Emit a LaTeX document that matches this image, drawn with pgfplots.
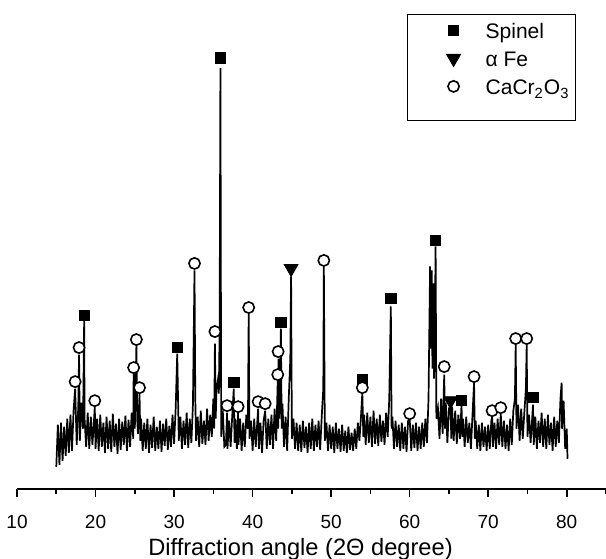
\documentclass[border=0pt]{standalone}
\usepackage{pgfplots}
\pgfplotsset{compat=1.18}
\usepackage{fontspec}
\setmainfont{Liberation Sans}

\begin{document}
\begin{tikzpicture}
\begin{axis}[
  scale only axis,
  width=294pt, height=244pt,
  xmin=10, xmax=85, ymin=0, ymax=488,
  axis x line=bottom, axis y line=none,
  x axis line style={-, line width=1pt},
  xtick={10,20,...,80},
  minor xtick={15,25,...,85},
  tick align=outside,
  major tick length=4pt, minor tick length=2.5pt,
  tick style={line width=0.8pt, black},
  /pgf/number format/assume math mode=true,
  xticklabel style={font=\fontsize{9.5}{11}\selectfont, yshift=-5.5pt},
  xlabel={Diffraction angle (2Θ degree)},
  xlabel style={font=\fontsize{11.8}{13}\selectfont,
    at={(axis description cs:0.5,0)}, anchor=center, yshift=-30pt, xshift=-5.5pt},
  legend style={at={(rel axis cs:0.949,0.971)}, anchor=north east,
    draw=black, line width=0.5pt, font=\fontsize{10.5}{12}\selectfont,
    inner xsep=2pt, inner ysep=2pt, row sep=0pt,
    nodes={inner sep=1pt, text height=9pt, text depth=3pt}},
  legend cell align=left,
  legend image code/.code={
    \path[draw=none] (0pt,0pt) -- (36pt,0pt);
    \draw[#1, draw=none] plot coordinates {(21pt,1.2pt)};
  },
]
% XRD pattern
\addplot[black, line width=0.85pt, forget plot] coordinates {
(15.0,22)(15.2,64)(15.4,24)(15.6,66)(15.8,28)
(16.0,62)(16.2,33)(16.4,70)(16.6,36)(16.8,74)
(17.0,38)(17.2,78)(17.4,100)(17.6,44)(17.8,82)(17.9,134)(18.0,48)(18.2,86)(18.4,60)(18.55,168)(18.6,70)(18.8,42)
(19.0,76)(19.2,40)(19.4,72)(19.6,44)(19.8,68)(19.9,82)
(20.0,40)(20.2,70)(20.4,38)(20.6,74)(20.8,42)
(21.0,66)(21.2,36)(21.4,72)(21.6,40)(21.8,68)
(22.0,37)(22.2,75)(22.4,42)(22.6,65)(22.8,35)
(23.0,70)(23.2,39)(23.4,67)(23.6,44)(23.8,73)
(24.0,38)(24.2,69)(24.4,42)(24.6,76)(24.8,50)(24.85,115)(25.0,60)(25.2,143)(25.3,70)(25.4,55)(25.6,95)(25.7,48)(25.8,70)
(26.0,38)(26.2,66)(26.4,40)(26.6,70)(26.8,36)
(27.0,64)(27.2,41)(27.4,72)(27.6,38)(27.8,62)
(28.0,40)(28.2,68)(28.4,37)(28.6,65)(28.8,43)
(29.0,70)(29.2,39)(29.4,63)(29.6,42)(29.8,74)
(30.0,45)(30.2,80)(30.4,135)(30.6,48)(30.8,72)
(31.0,40)(31.2,68)(31.4,44)(31.6,76)(31.8,41)
(32.0,70)(32.2,46)(32.4,84)(32.6,218)(32.7,90)(32.8,48)
(33.0,72)(33.2,42)(33.4,78)(33.6,45)(33.8,68)
(34.0,44)(34.2,80)(34.4,48)(34.6,74)(34.8,52)
(35.0,90)(35.1,60)(35.2,145)(35.3,70)(35.4,100)(35.6,110)(35.7,95)(35.8,160)(35.9,420)(36.0,52)
(36.2,78)(36.4,42)(36.6,44)(36.75,76)(36.8,40)
(37.0,68)(37.2,42)(37.4,72)(37.6,100)(37.7,46)(37.8,70)
(38.0,40)(38.15,76)(38.2,44)(38.4,70)(38.6,38)(38.8,66)
(39.0,42)(39.2,74)(39.4,60)(39.5,175)(39.6,50)(39.8,68)
(40.0,38)(40.2,70)(40.4,42)(40.7,80)(40.8,40)
(41.0,66)(41.2,36)(41.4,68)(41.6,78)(41.8,40)
(42.0,70)(42.2,44)(42.4,74)(42.6,40)(42.8,80)
(43.0,48)(43.2,108)(43.25,60)(43.3,130)(43.4,70)(43.6,160)(43.7,60)(43.8,85)
(44.0,42)(44.2,72)(44.4,38)(44.6,90)(44.8,130)(44.9,212)(45.0,50)
(45.2,70)(45.4,40)(45.6,66)(45.8,38)
(46.0,64)(46.2,37)(46.4,68)(46.6,41)(46.8,62)
(47.0,36)(47.2,66)(47.4,40)(47.6,70)(47.8,38)
(48.0,64)(48.2,42)(48.4,68)(48.6,39)(48.8,72)
(49.0,100)(49.07,222)(49.2,48)(49.4,66)(49.6,38)(49.8,64)
(50.0,40)(50.2,62)(50.4,36)(50.6,66)(50.8,40)
(51.0,60)(51.2,37)(51.4,64)(51.6,38)(51.8,58)
(52.0,36)(52.2,62)(52.4,39)(52.6,56)(52.8,38)
(53.0,60)(53.2,40)(53.4,66)(53.6,48)(53.8,72)(53.97,96)(54.1,52)
(54.2,74)(54.4,44)(54.6,76)(54.8,46)
(55.0,72)(55.2,42)(55.4,78)(55.6,45)(55.8,70)
(56.0,43)(56.2,74)(56.4,47)(56.6,68)(56.8,44)
(57.0,76)(57.2,52)(57.4,90)(57.6,182)(57.7,60)(57.8,72)
(58.0,40)(58.2,68)(58.4,42)(58.6,64)(58.8,38)
(59.0,66)(59.2,40)(59.4,62)(59.6,37)(59.8,68)
(60.0,70)(60.2,38)(60.4,64)(60.6,41)(60.8,66)
(61.0,38)(61.2,62)(61.4,40)(61.6,66)(61.8,42)
(62.0,70)(62.2,46)(62.4,90)(62.6,222)(62.7,140)(62.8,218)(62.9,120)(63.0,205)(63.1,110)(63.2,150)(63.3,242)(63.4,70)(63.6,80)(63.8,50)
(64.0,90)(64.2,55)(64.4,114)(64.5,60)(64.6,86)(64.8,46)
(65.0,80)(65.2,84)(65.3,50)(65.4,82)(65.6,48)(65.8,78)
(66.0,45)(66.2,74)(66.4,50)(66.6,84)(66.7,52)(66.8,70)
(67.0,42)(67.2,72)(67.4,46)(67.6,66)(67.8,40)
(68.0,74)(68.2,106)(68.3,50)(68.4,68)(68.6,40)(68.8,64)
(69.0,38)(69.2,66)(69.4,42)(69.6,62)(69.8,38)
(70.0,64)(70.2,40)(70.4,68)(70.5,72)(70.6,42)(70.8,66)
(71.0,40)(71.2,70)(71.4,44)(71.6,75)(71.8,42)
(72.0,68)(72.2,40)(72.4,64)(72.6,38)(72.8,70)
(73.0,44)(73.2,78)(73.4,90)(73.5,144)(73.6,60)(73.8,84)
(74.0,48)(74.2,80)(74.4,50)(74.6,76)(74.8,100)(74.9,144)(75.0,52)
(75.2,74)(75.4,46)(75.6,70)(75.7,84)(75.8,44)
(76.0,72)(76.2,40)(76.4,68)(76.6,46)(76.8,76)
(77.0,42)(77.2,70)(77.4,40)(77.6,74)(77.8,44)
(78.0,66)(78.2,38)(78.4,72)(78.6,42)(78.8,68)
(79.0,46)(79.2,90)(79.35,106)(79.4,60)(79.6,88)(79.8,40)(80.0,60)(80.1,30)
};
% phase markers
\addplot[only marks, mark=square*, mark size=2.6pt, black] coordinates {
(18.55,173)(30.4,141)(35.9,430)(37.6,106)(43.6,166)(53.97,109)(57.6,190)(63.3,248)(66.6,88)(75.7,91)
};
\addlegendentry{Spinel}
\addplot[only marks, mark=triangle*, mark size=4pt, black,
  mark options={rotate=180}] coordinates {
(44.9,220)(65.2,88)
};
\addlegendentry{α Fe}
\addplot[only marks, mark=*, mark size=2.8pt, draw=black, fill=white,
  mark options={line width=0.8pt}] coordinates {
(17.4,107)(17.9,141)(19.9,88)(24.85,121)(25.2,149)(25.6,101)(32.6,225)(35.2,157)
(36.75,83)(38.15,82)(39.5,181)(40.7,87)(41.6,85)(43.25,137)(43.2,114)(49.07,228)
(53.97,101)(60.0,75)(64.4,122)(68.2,112)(70.5,78)(71.6,81)(73.5,150)(74.9,150)
};
\addlegendentry{CaCr\textsubscript{2}O\textsubscript{3}}
\addlegendimage{empty legend}
\addlegendentry[text height=4pt, text depth=1pt]{}
\end{axis}
\pgfresetboundingbox
\useasboundingbox ([xshift=-8.5pt,yshift=-35pt]current axis.south west) rectangle (current axis.north east);
\end{tikzpicture}
\end{document}
